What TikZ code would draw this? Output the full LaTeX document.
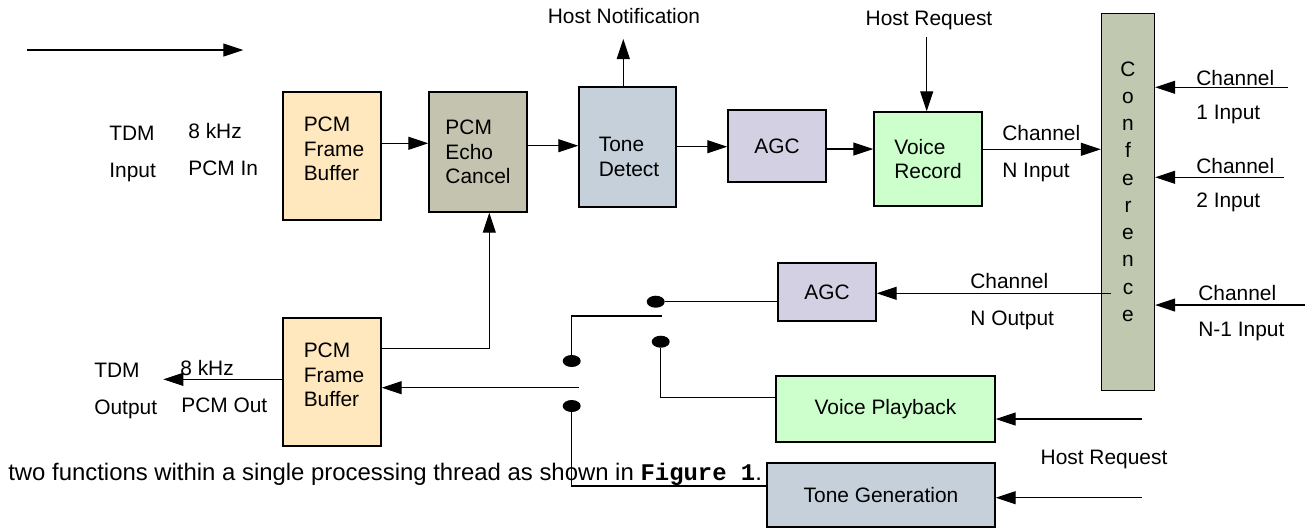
\documentclass[tikz,border=0pt]{standalone}
\usepackage{fontspec}
\setmainfont{Liberation Sans}
\setmonofont{Liberation Mono}
\usetikzlibrary{arrows.meta,calc,shapes.geometric}
\definecolor{bufcol}{RGB}{255,232,190}
\definecolor{echocol}{RGB}{195,195,175}
\definecolor{tonecol}{RGB}{197,208,218}
\definecolor{agccol}{RGB}{212,208,228}
\definecolor{voicecol}{RGB}{204,255,204}
\definecolor{confcol}{RGB}{192,200,176}
\newcommand*{\lblsize}{\fontsize{11.9}{13.9}\selectfont}
\newcommand*{\capsize}{\fontsize{13.6}{16}\selectfont}
\newcommand*{\confsize}{\fontsize{11.9}{15.5}\selectfont}

\begin{document}
\begin{tikzpicture}[x=0.02cm, y=-0.02cm, font=\lblsize,
    blk/.style={draw, line width=0.8pt, inner sep=0pt, align=left},
    txt/.style={inner sep=0pt, align=left},
    lbl/.style={inner sep=0pt, anchor=base west},
    dot/.style={ellipse, fill, inner sep=0pt, minimum width=0.36cm, minimum height=0.24cm},
    wire/.style={line width=0.6pt},
    arr/.style={wire, -{Triangle[length=0.4cm, width=0.26cm]}}]
    \useasboundingbox (0,0) rectangle (1305,529);

    \node [lbl, font=\capsize] (cap) at (8,480) {two functions within a single processing thread as shown in \textbf{\texttt{Figure 1}}.};

    % processing blocks
    \node [blk, fill=bufcol,   minimum width=1.96cm, minimum height=2.56cm] (fbin)   at (332,156)  {};
    \node [txt] (fbintxt) at (334,149) {PCM\\Frame\\Buffer};
    \node [blk, fill=echocol,  minimum width=1.96cm, minimum height=2.40cm] (echo)   at (478,152)  {PCM\\Echo\\Cancel};
    \node [blk, fill=tonecol,  minimum width=1.94cm, minimum height=2.40cm] (tdet)   at (627.5,147) {};
    \node [txt] (tdettxt) at (629,157) {Tone\\Detect};
    \node [blk, fill=agccol,   minimum width=1.96cm, minimum height=1.44cm] (agcin)  at (777,146)  {AGC};
    \node [blk, fill=voicecol, minimum width=2.16cm, minimum height=1.88cm] (vrec)   at (928,159)  {Voice\\Record};
    \node [blk, fill=confcol,  minimum width=1.06cm, minimum height=7.54cm] (conf)   at (1128,202) {};
    \node [inner sep=0pt, align=center, font=\confsize] (conftxt) at (1128,191.5) {C\\o\\n\\f\\e\\r\\e\\n\\c\\e};
    \node [blk, fill=agccol,   minimum width=1.96cm, minimum height=1.16cm] (agcout) at (827,292)  {AGC};
    \node [blk, fill=bufcol,   minimum width=1.96cm, minimum height=2.56cm] (fbout)  at (332,382)  {};
    \node [txt] (fbouttxt) at (334,375) {PCM\\Frame\\Buffer};
    \node [blk, fill=voicecol, minimum width=4.38cm, minimum height=1.32cm] (vplay)  at (885.5,409) {Voice Playback};
    \node [blk, fill=tonecol,  minimum width=4.56cm, minimum height=1.28cm] (tgen)   at (881,495)  {Tone Generation};

    % switch contacts
    \node [dot] (dA) at (655.7,301.7) {};
    \node [dot] (dB) at (571.7,361)   {};
    \node [dot] (dC) at (660.7,341.7) {};
    \node [dot] (dD) at (571.7,406)   {};

    \coordinate (flowA) at (27.3,50);
    \coordinate (flowB) at (243.3,50);
    \coordinate (notif) at (623.3,39);
    \coordinate (hreq)  at (926.7,36.7);
    \coordinate (chA)   at (1287.7,87.3);
    \coordinate (chB)   at (1284,177.3);
    \coordinate (chC)   at (1305,305);
    \coordinate (lever) at (662,316);
    \coordinate (swin)  at (579,387.7);
    \coordinate (tdmout) at (163.3,379.3);
    \coordinate (hreqA) at (1141.7,419);
    \coordinate (hreqB) at (1141.7,497.7);

    % labels
    \node [lbl] (tdmi)  at (109,140) {TDM};
    \node [lbl] (inpi)  at (109,177) {Input};
    \node [lbl] (khzi)  at (188,138) {8 kHz};
    \node [lbl] (pcmi)  at (188,175) {PCM In};
    \node [lbl] (tdmo)  at (94,377)  {TDM};
    \node [lbl] (outo)  at (94,414)  {Output};
    \node [lbl] (khzo)  at (180,375) {8 kHz};
    \node [lbl] (pcmo)  at (181,412) {PCM Out};
    \node [lbl, anchor=base] (hnote) at (624,23)  {Host Notification};
    \node [lbl, anchor=base] (hreqt) at (929,25)  {Host Request};
    \node [lbl, anchor=base] (hreqb) at (1104,464) {Host Request};
    \node [lbl] (chni)  at (1002,140) {Channel};
    \node [lbl] (chnil) at (1002,177) {N Input};
    \node [lbl] (ch1)   at (1196,85)  {Channel};
    \node [lbl] (ch1l)  at (1196,119) {1 Input};
    \node [lbl] (ch2)   at (1196,173) {Channel};
    \node [lbl] (ch2l)  at (1196,207) {2 Input};
    \node [lbl] (chm)   at (1198,300) {Channel};
    \node [lbl] (chml)  at (1198,336) {N-1 Input};
    \node [lbl] (chno)  at (970,288)  {Channel};
    \node [lbl] (chnol) at (970,325)  {N Output};

    % connectors
    \draw [arr] (flowA) -- (flowB);
    \draw [arr] (fbin.east |- 0,143.3) -- (echo.west |- 0,143.3);
    \draw [arr] (echo.east |- 0,145.7) -- (tdet.west |- 0,145.7);
    \draw [arr] (tdet.north -| notif) -- (notif);
    \draw [arr] (tdet.east |- 0,146.7) -- (agcin.west |- 0,146.7);
    \draw [arr] (agcin.east |- 0,149) -- (vrec.west |- 0,149);
    \draw [arr] (hreq) -- (vrec.north -| hreq);
    \draw [arr] (vrec.east |- 0,149.3) -- (conf.west |- 0,149.3);
    \draw [arr] (chA) -- (conf.east |- chA);
    \draw [arr] (chB) -- (conf.east |- chB);
    \draw [arr] (chC) -- (conf.east |- chC);
    \draw [arr] ($(conf.west |- 0,293.3)+(10,0)$) -- (agcout.east |- 0,293.3);
    \draw [wire] (agcout.west |- dA) -- (dA);
    \draw [wire] (dB) |- (lever);
    \draw [wire] (dC) |- (vplay.west |- 0,397.7);
    \draw [wire] (dD) |- (tgen.west |- 0,486);
    \draw [arr] (swin) -- (fbout.east |- swin);
    \draw [arr] (fbout.east |- 0,348.3) -| (echo.south -| 489.3,0);
    \draw [arr] (fbout.west |- 0,379.3) -- (tdmout);
    \draw [arr] (hreqA) -- (vplay.east |- hreqA);
    \draw [arr] (hreqB) -- (tgen.east |- hreqB);
    %\draw [red] (0,0) grid[step=100] (1305,529);
\end{tikzpicture}
\end{document}
